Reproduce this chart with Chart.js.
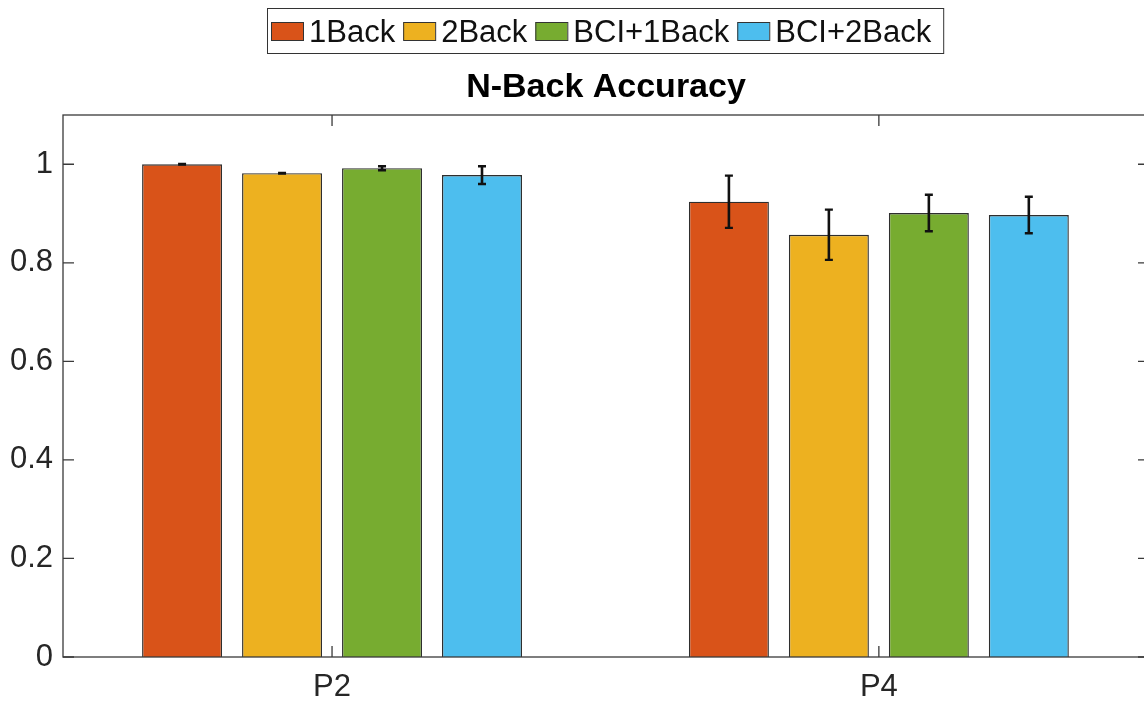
<!DOCTYPE html>
<html>
<head>
<meta charset="utf-8">
<script src="https://cdn.jsdelivr.net/npm/chart.js@4/dist/chart.umd.min.js"></script>
<style>
  html, body { margin: 0; padding: 0; background: #fff; overflow: hidden; }
  #wrap { width: 1152px; height: 702px; }
</style>
</head>
<body>
<div id="wrap"><canvas id="acc-chart"></canvas></div>
<script>
const categories = ["P2", "P4"];
const seriesNames = ["1Back", "2Back", "BCI+1Back", "BCI+2Back"];
const oneBack = [1.0, 0.924];
const twoBack = [0.982, 0.857];
const bciOneBack = [0.992, 0.901];
const bciTwoBack = [0.978, 0.897];
const oneBackErr = [0.0006, 0.053];
const twoBackErr = [0.0006, 0.051];
const bciOneBackErr = [0.004, 0.037];
const bciTwoBackErr = [0.018, 0.037];
const yTicks = [0, 0.2, 0.4, 0.6, 0.8, 1];

const COLORS = ["#D95319", "#EDB120", "#77AC30", "#4DBEEE"];
const FONT = "Arial, 'Liberation Sans', Helvetica, sans-serif";
const AXIS_COLOR = "#3a3a3a";
const TICK_LEN = 11;

const values = [oneBack, twoBack, bciOneBack, bciTwoBack];
const errors = [oneBackErr, twoBackErr, bciOneBackErr, bciTwoBackErr];

// bars sit at x = 1, 2 on a linear axis (like matlab's bar)
const datasets = seriesNames.map((name, i) => ({
  label: name,
  data: categories.map((c, j) => ({ x: j + 1, y: values[i][j] })),
  errs: errors[i],
  backgroundColor: COLORS[i],
  borderColor: "#2e2e2e",
  borderWidth: 1.4,
  categoryPercentage: 0.7313,
  barPercentage: 0.8,
}));

// box around the axes with inward ticks
const boxPlugin = {
  id: "box",
  afterDatasetsDraw(chart) {
    const { ctx, chartArea: a, scales } = chart;
    ctx.save();
    ctx.strokeStyle = AXIS_COLOR;
    ctx.lineWidth = 1.3;
    ctx.strokeRect(a.left, a.top, a.right - a.left, a.bottom - a.top);
    ctx.beginPath();
    yTicks.forEach((v) => {
      const y = scales.y.getPixelForValue(v);
      ctx.moveTo(a.left, y);
      ctx.lineTo(a.left + TICK_LEN, y);
      ctx.moveTo(a.right, y);
      ctx.lineTo(a.right - TICK_LEN, y);
    });
    categories.forEach((c, j) => {
      const x = scales.x.getPixelForValue(j + 1);
      ctx.moveTo(x, a.bottom);
      ctx.lineTo(x, a.bottom - TICK_LEN);
      ctx.moveTo(x, a.top);
      ctx.lineTo(x, a.top + TICK_LEN);
    });
    ctx.stroke();
    ctx.restore();
  },
};

const errorBarPlugin = {
  id: "errorBars",
  afterDatasetsDraw(chart) {
    const { ctx, scales } = chart;
    ctx.save();
    ctx.strokeStyle = "#111111";
    chart.data.datasets.forEach((ds, i) => {
      const meta = chart.getDatasetMeta(i);
      meta.data.forEach((bar, j) => {
        const v = ds.data[j].y;
        const e = ds.errs[j];
        const yTop = scales.y.getPixelForValue(v + e);
        const yBot = scales.y.getPixelForValue(v - e);
        ctx.lineWidth = 2.6;
        ctx.beginPath();
        ctx.moveTo(bar.x, yTop);
        ctx.lineTo(bar.x, yBot);
        ctx.stroke();
        ctx.lineWidth = 2.4;
        ctx.beginPath();
        ctx.moveTo(bar.x - 4, yTop);
        ctx.lineTo(bar.x + 4, yTop);
        ctx.moveTo(bar.x - 4, yBot);
        ctx.lineTo(bar.x + 4, yBot);
        ctx.stroke();
      });
    });
    ctx.restore();
  },
};

// matlab-style boxed legend on one row
const legendPlugin = {
  id: "boxLegend",
  afterDraw(chart) {
    const { ctx } = chart;
    const sw = 32, sh = 18, gap = 6, itemGap = 8, padL = 4, padR = 12;
    ctx.save();
    ctx.font = "31px " + FONT;
    const widths = seriesNames.map((n) => ctx.measureText(n).width);
    let content = 0;
    widths.forEach((w) => (content += sw + gap + w));
    content += itemGap * (seriesNames.length - 1);
    const boxW = content + padL + padR;
    const left = Math.round(605 - boxW / 2);
    ctx.fillStyle = "#fff";
    ctx.fillRect(left, 8, boxW, 45);
    ctx.strokeStyle = "#333";
    ctx.lineWidth = 1;
    ctx.strokeRect(left + 0.5, 8.5, boxW, 45);
    let x = left + padL;
    seriesNames.forEach((n, i) => {
      ctx.fillStyle = COLORS[i];
      ctx.fillRect(x, 22, sw, sh);
      ctx.strokeStyle = "#333";
      ctx.strokeRect(x + 0.5, 22.5, sw, sh);
      ctx.fillStyle = "#111";
      ctx.textBaseline = "alphabetic";
      ctx.fillText(n, x + sw + gap, 42);
      x += sw + gap + widths[i] + itemGap;
    });
    ctx.restore();
  },
};

const ctx = document.getElementById("acc-chart").getContext("2d");

const accChart = new Chart(ctx, {
  type: "bar",
  data: { datasets: datasets },
  plugins: [boxPlugin, errorBarPlugin, legendPlugin],
  options: {
    responsive: true,
    maintainAspectRatio: false,
    animation: false,
    layout: { padding: { top: 67, right: 3, left: 0, bottom: 0 } },
    scales: {
      x: {
        type: "linear",
        offset: false,
        min: 0.508,
        max: 2.494,
        grid: { display: false, drawTicks: false, offset: false },
        border: { display: false },
        afterBuildTicks: (scale) => {
          scale.ticks = categories.map((c, j) => ({ value: j + 1 }));
        },
        afterFit: (scale) => {
          scale.height = 45;
        },
        ticks: {
          padding: 12,
          color: "#262626",
          font: { family: FONT, size: 31 },
          callback: (v) => categories[v - 1],
        },
      },
      y: {
        min: 0,
        max: 1.1,
        grid: { display: false, drawTicks: false },
        border: { display: false },
        afterBuildTicks: (scale) => {
          scale.ticks = yTicks.map((v) => ({ value: v }));
        },
        afterFit: (scale) => {
          scale.width = 63;
        },
        ticks: {
          padding: 10,
          color: "#262626",
          font: { family: FONT, size: 31 },
          callback: (v) => String(v),
        },
      },
    },
    plugins: {
      legend: { display: false },
      tooltip: { enabled: false },
      title: {
        display: true,
        fullSize: false,
        text: "N-Back Accuracy",
        color: "#000",
        font: { family: FONT, size: 34, weight: "bold" },
        padding: { top: 0, bottom: 7.2 },
      },
    },
  },
});
</script>
</body>
</html>
